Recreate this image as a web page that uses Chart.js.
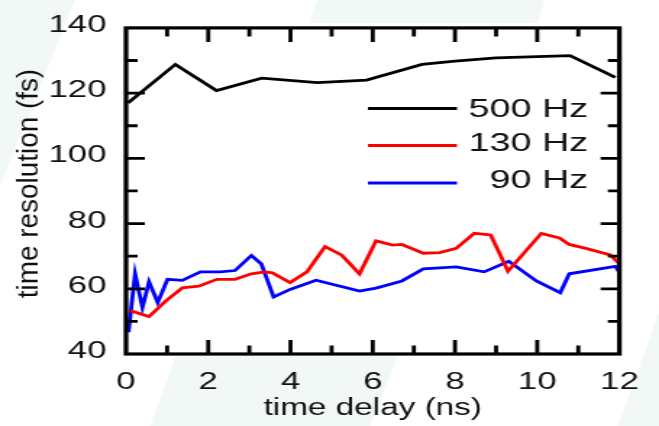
<!DOCTYPE html>
<html>
<head>
<meta charset="utf-8">
<script src="https://cdn.jsdelivr.net/npm/chart.js@4"></script>
<style>
  html, body { margin: 0; padding: 0; background: #fff; overflow: hidden; }
  #wrap { width: 659px; height: 426px; position: relative; }
  #chart { transform-origin: 0 0; transform: scaleX(1.4484); }
</style>
</head>
<body>
<div id="wrap"><canvas id="chart" width="455" height="426"></canvas></div>
<script>
// the source figure is stretched sideways, so the canvas is drawn narrow and scaled in x
const STRETCH = 659 / 455;

const xTicksMajor = [0, 2, 4, 6, 8, 10, 12];
const yTicksMajor = [40, 60, 80, 100, 120, 140];

const labels = ['500 Hz', '130 Hz', '90 Hz'];
const colors = ['#000000', '#ff0000', '#0000ff'];

const x500 = [0.05, 1.2, 2.2, 3.3, 4.65, 5.85, 7.2, 8.0, 9.0, 10.0, 10.8, 11.9];
const y500 = [117.0, 128.8, 120.8, 124.6, 123.2, 124.0, 128.8, 129.8, 130.8, 131.2, 131.5, 124.8];

const x130 = [0.1, 0.56, 0.97, 1.37, 1.77, 2.21, 2.65, 3.05, 3.37, 3.56, 3.99, 4.4, 4.84, 5.24, 5.68,
  6.08, 6.48, 6.71, 7.23, 7.63, 8.03, 8.47, 8.87, 9.29, 10.1, 10.54, 10.78, 11.18, 11.78, 11.98];
const y130 = [53.3, 51.5, 56.3, 60.3, 60.8, 62.9, 62.9, 64.6, 65.2, 64.9, 61.9, 65.2, 72.9, 70.4, 64.6,
  74.7, 73.4, 73.6, 70.9, 71.1, 72.4, 77.0, 76.5, 65.4, 77.0, 75.6, 73.6, 72.4, 70.4, 67.9];

const x90 = [0.06, 0.22, 0.40, 0.56, 0.77, 1.01, 1.37, 1.81, 2.29, 2.65, 3.05, 3.29, 3.59, 3.99, 4.62,
  5.68, 6.08, 6.71, 7.23, 8.03, 8.71, 9.31, 9.98, 10.56, 10.78, 11.9, 11.98, 12.0];
const y90 = [46.7, 64.6, 54.3, 62.1, 55.8, 62.9, 62.6, 65.2, 65.2, 65.6, 70.2, 67.6, 57.5, 59.8, 62.6,
  59.3, 60.2, 62.4, 66.1, 66.7, 65.2, 68.4, 62.4, 58.8, 64.6, 66.9, 65.4, 70.4];

const toPoints = (xs, ys) => xs.map((x, i) => ({ x, y: ys[i] }));
const series = [toPoints(x500, y500), toPoints(x130, y130), toPoints(x90, y90)];

const FONT = '"Liberation Sans", Arial, sans-serif';

// faint pale shapes behind the figure (page coords, before stretch)
const bgShapes = [
  [[0, 0], [75, 0], [0, 187]],
  [[317, 0], [545, 0], [537, 23], [310, 23]],
  [[176, 355], [398, 355], [370, 426], [150, 426]],
  [[659, 312], [659, 426], [618, 426]],
];

const decor = {
  id: 'decor',
  beforeDraw(chart) {
    const { ctx } = chart;
    ctx.save();
    ctx.fillStyle = '#f1f8f6';
    bgShapes.forEach((poly) => {
      ctx.beginPath();
      poly.forEach(([px, py], i) => {
        if (i === 0) ctx.moveTo(px / STRETCH, py); else ctx.lineTo(px / STRETCH, py);
      });
      ctx.closePath();
      ctx.fill();
    });
    const a = chart.chartArea;
    ctx.fillStyle = '#fff';
    ctx.fillRect(a.left, a.top, a.right - a.left, a.bottom - a.top);

    // y axis title
    ctx.translate(20, 183.5);
    ctx.rotate(-Math.PI / 2);
    ctx.scale(1.36, 1);
    ctx.fillStyle = '#111';
    ctx.font = '20.5px ' + FONT;
    ctx.textAlign = 'center';
    ctx.textBaseline = 'middle';
    ctx.fillText('time resolution (fs)', 0, 0);
    ctx.restore();
  },
  afterDraw(chart) {
    const { ctx } = chart;
    const a = chart.chartArea;
    const xs = chart.scales.x;
    const ys = chart.scales.y;
    ctx.save();
    ctx.strokeStyle = '#000';
    ctx.lineCap = 'butt';

    // ticks on all four sides, pointing inwards
    ctx.lineWidth = 2.8;
    ctx.beginPath();
    for (let v = 1; v < 12; v++) {
      const len = v % 2 === 0 ? 14 : 8.5;
      const px = xs.getPixelForValue(v);
      ctx.moveTo(px, a.bottom); ctx.lineTo(px, a.bottom - len);
      ctx.moveTo(px, a.top); ctx.lineTo(px, a.top + len);
    }
    for (let v = 50; v < 140; v += 10) {
      const len = v % 20 === 0 ? 13 : 8;
      const py = ys.getPixelForValue(v);
      ctx.moveTo(a.left, py); ctx.lineTo(a.left + len, py);
      ctx.moveTo(a.right, py); ctx.lineTo(a.right - len, py);
    }
    ctx.stroke();

    ctx.lineWidth = 3.2;
    ctx.strokeRect(a.left, a.top, a.right - a.left, a.bottom - a.top);

    // legend inside the plot
    const rows = [108.5, 145.5, 183];
    const textY = [109.5, 144.2, 180.8];
    ctx.font = '26px ' + FONT;
    ctx.textAlign = 'right';
    ctx.textBaseline = 'middle';
    chart.data.datasets.forEach((ds, i) => {
      ctx.strokeStyle = ds.borderColor;
      ctx.lineWidth = 2.8;
      ctx.beginPath();
      ctx.moveTo(254, rows[i]);
      ctx.lineTo(315.5, rows[i]);
      ctx.stroke();
      ctx.fillStyle = '#111';
      ctx.fillText(ds.label, 406, textY[i]);
    });
    ctx.restore();
  },
};

new Chart(document.getElementById('chart'), {
  type: 'line',
  data: {
    datasets: series.map((data, i) => ({
      label: labels[i],
      data,
      borderColor: colors[i],
      backgroundColor: colors[i],
      borderWidth: 2.8,
      pointRadius: 0,
      tension: 0,
      fill: false,
    })),
  },
  options: {
    responsive: false,
    animation: false,
    layout: { padding: { top: 23, right: 21.4, left: 0, bottom: 0 } },
    plugins: { legend: { display: false }, tooltip: { enabled: false } },
    scales: {
      x: {
        type: 'linear',
        min: 0,
        max: 12,
        afterFit: (s) => { s.height = 72; },
        afterBuildTicks: (s) => { s.ticks = xTicksMajor.map((v) => ({ value: v })); },
        grid: { display: false, drawTicks: false },
        border: { display: false },
        ticks: { padding: 14, color: '#111', maxRotation: 0, autoSkip: false, font: { family: FONT, size: 24 } },
        title: {
          display: true,
          text: 'time delay (ns)',
          color: '#111',
          font: { family: FONT, size: 23 },
          padding: { top: 0, bottom: 4 },
        },
      },
      y: {
        type: 'linear',
        min: 40,
        max: 140,
        afterFit: (s) => { s.width = 87; },
        afterBuildTicks: (s) => { s.ticks = yTicksMajor.map((v) => ({ value: v })); },
        grid: { display: false, drawTicks: false },
        border: { display: false },
        ticks: { padding: 13.5, labelOffset: -2.5, color: '#111', font: { family: FONT, size: 24 } },
      },
    },
  },
  plugins: [decor],
});
</script>
</body>
</html>
